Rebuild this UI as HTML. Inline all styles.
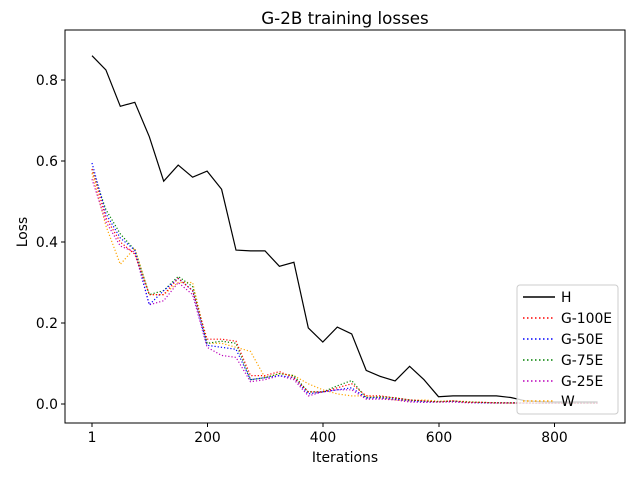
<!DOCTYPE html>
<html><head><meta charset="utf-8"><style>body{margin:0;background:#fff}svg{display:block}</style></head>
<body>
<svg id="s" width="640" height="480" xmlns="http://www.w3.org/2000/svg" font-family="DejaVu Sans, Liberation Sans, sans-serif">
<rect width="640" height="480" fill="#fff"/>
<g id="lines"></g>
<rect x="65" y="30" width="560" height="393" fill="none" stroke="#000" stroke-width="1"/>
<g stroke="#000">
<line x1="92" y1="423" x2="92" y2="427"/><line x1="207.5" y1="423" x2="207.5" y2="427"/><line x1="323" y1="423" x2="323" y2="427"/><line x1="439" y1="423" x2="439" y2="427"/><line x1="554.5" y1="423" x2="554.5" y2="427"/>
<line x1="61" y1="404" x2="65" y2="404"/><line x1="61" y1="323" x2="65" y2="323"/><line x1="61" y1="242" x2="65" y2="242"/><line x1="61" y1="161" x2="65" y2="161"/><line x1="61" y1="80" x2="65" y2="80"/>
</g>
<g font-size="13.9" text-anchor="middle" fill="#000">
<text x="92" y="442">1</text><text x="207.5" y="442">200</text><text x="323" y="442">400</text><text x="439" y="442">600</text><text x="554.5" y="442">800</text>
<text x="345" y="462">Iterations</text>
<text x="345" y="24" font-size="16.7">G-2B training losses</text>
</g>
<g font-size="13.9" text-anchor="end">
<text x="58" y="409">0.0</text><text x="58" y="328">0.2</text><text x="58" y="247">0.4</text><text x="58" y="166">0.6</text><text x="58" y="85">0.8</text>
</g>
<text x="27" y="232" font-size="13.9" text-anchor="middle" transform="rotate(-90 27 232)">Loss</text>
<rect x="517" y="285" width="101" height="129" rx="3" fill="#fff" fill-opacity="0.8" stroke="#ccc"/>
<g stroke-width="1.5">
<line x1="523" y1="297" x2="555" y2="297" stroke="#000"/>
<line x1="523" y1="318" x2="555" y2="318" stroke="red" stroke-dasharray="1.5,2.5"/>
<line x1="523" y1="339" x2="555" y2="339" stroke="blue" stroke-dasharray="1.5,2.5"/>
<line x1="523" y1="360" x2="555" y2="360" stroke="green" stroke-dasharray="1.5,2.5"/>
<line x1="523" y1="381" x2="555" y2="381" stroke="#b0b" stroke-dasharray="1.5,2.5"/>
<line x1="523" y1="401" x2="555" y2="401" stroke="orange" stroke-dasharray="1.5,2.5"/>
</g>
<g font-size="13.9">
<text x="561" y="302">H</text><text x="561" y="323">G-100E</text><text x="561" y="344">G-50E</text><text x="561" y="365">G-75E</text><text x="561" y="386">G-25E</text><text x="561" y="406">W</text>
</g>
</svg>
<script>
var S={
W:["orange",[.57,.44,.345,.385,.27,.27,.30,.30,.15,.15,.14,.13,.065,.075,.07,.05,.035,.025,.02,.02,.015,.01,.008,.01,.007,.008,.006,.004,.003,.002,.002,.002,.002,.002,.002,.002]],
P:["#b0b",[.555,.45,.39,.375,.245,.255,.30,.27,.14,.12,.115,.055,.06,.07,.06,.02,.03,.035,.035,.012,.012,.01,.005,.004,.005,.005,.003,.003,.002,.002,.002,.002,.002,.002,.002,.002]],
G:["green",[.58,.48,.42,.38,.27,.28,.315,.29,.15,.155,.15,.06,.065,.075,.07,.03,.03,.045,.058,.015,.018,.015,.01,.007,.006,.007,.005,.004,.003,.003,.003,.002,.002,.002,.002,.002]],
B:["blue",[.595,.47,.41,.38,.245,.28,.31,.28,.145,.14,.135,.06,.065,.07,.065,.025,.03,.035,.04,.015,.015,.012,.008,.006,.005,.007,.004,.003,.003,.003,.002,.002,.002,.002,.002,.002]],
R:["red",[.58,.46,.40,.37,.27,.27,.31,.28,.16,.16,.155,.07,.07,.08,.065,.03,.03,.04,.05,.02,.02,.015,.01,.008,.005,.008,.004,.004,.003,.003,.003,.002,.002,.002,.002,.002]],
H:["#000",[.86,.825,.735,.745,.66,.55,.59,.56,.575,.53,.38,.378,.378,.34,.35,.188,.153,.19,.173,.083,.068,.057,.093,.06,.018,.02,.02,.02,.02,.016,.008,.006,.005,.005,.005,.005]]};
var g=document.getElementById('lines'),h='';
for(var k in S){var c=S[k][0],d=S[k][1],p=[];
for(var i=0;i<d.length;i++){var it=i==0?1:i*25;p.push((91.4+it*0.5785).toFixed(1)+','+(404-405*d[i]).toFixed(1));}
h+='<polyline fill="none" stroke="'+c+'" stroke-width="1.2" '+(k=='H'?'':'stroke-dasharray="1.2,2" ')+'points="'+p.join(' ')+'"/>';}
g.innerHTML=h;
</script>
</body></html>
